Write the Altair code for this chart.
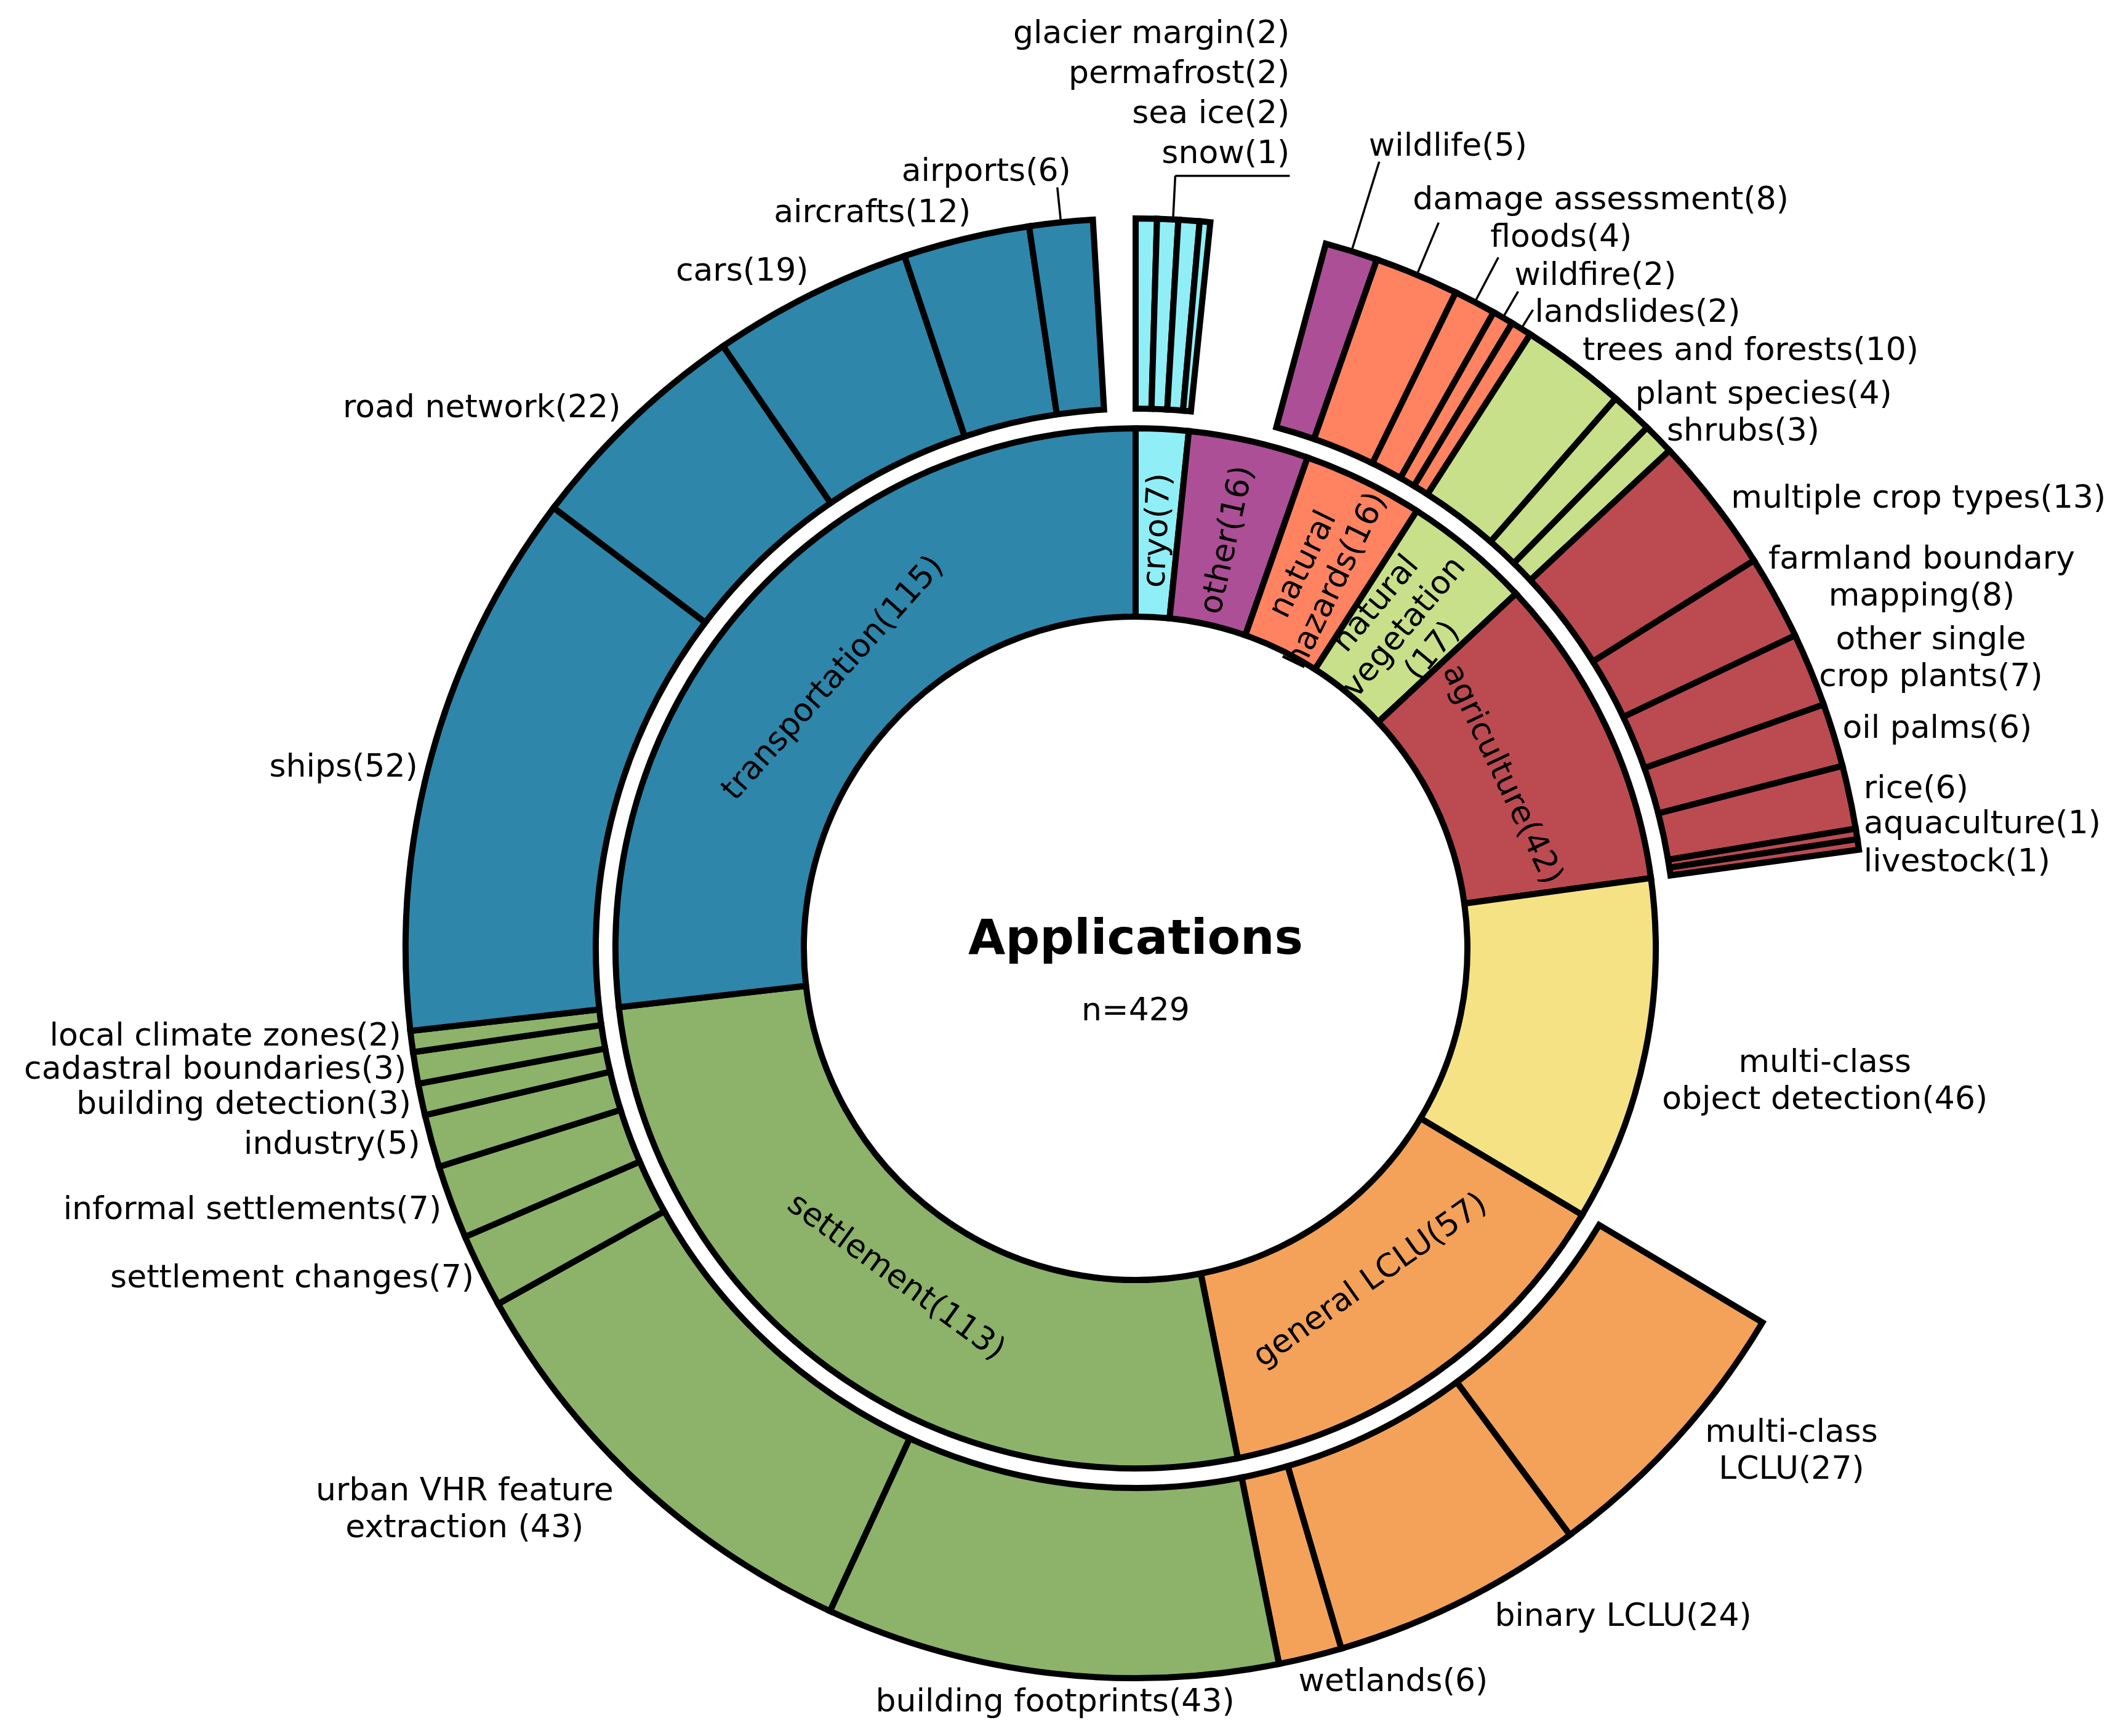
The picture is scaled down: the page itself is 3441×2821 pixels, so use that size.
import math
import altair as alt
import pandas as pd

# ------------------------------------------------------------------ data
inner_names = ["cryo", "other", "natural hazards", "natural vegetation", "agriculture",
               "multi-class object detection", "general LCLU", "settlement", "transportation"]
inner_values = [7, 16, 16, 17, 42, 46, 57, 113, 115]
inner_labels = ["cryo(7)", "other(16)", "natural\nhazards(16)", "natural\nvegetation\n(17)",
                "agriculture(42)", "", "general LCLU(57)", "settlement(113)", "transportation(115)"]
inner_colors = ["#90EEF6", "#AD4F96", "#FF8360", "#C8E08A", "#BC4B51",
                "#F4E285", "#F4A259", "#8CB369", "#2E86AB"]

outer_parents = (["cryo"] * 4 + ["other"] * 2 + ["natural hazards"] * 4 + ["natural vegetation"] * 3
                 + ["agriculture"] * 7 + ["multi-class object detection"] + ["general LCLU"] * 3
                 + ["settlement"] * 8 + ["transportation"] * 6)
outer_names = ["glacier margin", "permafrost", "sea ice", "snow",
               "other (unlisted)", "wildlife",
               "damage assessment", "floods", "wildfire", "landslides",
               "trees and forests", "plant species", "shrubs",
               "multiple crop types", "farmland boundary mapping", "other single crop plants",
               "oil palms", "rice", "aquaculture", "livestock",
               "multi-class object detection",
               "multi-class LCLU", "binary LCLU", "wetlands",
               "building footprints", "urban VHR feature extraction", "settlement changes",
               "informal settlements", "industry", "building detection", "cadastral boundaries",
               "local climate zones",
               "ships", "road network", "cars", "aircrafts", "airports", "transportation (unlisted)"]
outer_values = [2, 2, 2, 1,
                11, 5,
                8, 4, 2, 2,
                10, 4, 3,
                13, 8, 7, 6, 6, 1, 1,
                46,
                27, 24, 6,
                43, 43, 7, 7, 5, 3, 3, 2,
                52, 22, 19, 12, 6, 4]
outer_labels = ["glacier margin(2)", "permafrost(2)", "sea ice(2)", "snow(1)",
                "", "wildlife(5)",
                "damage assessment(8)", "floods(4)", "wildfire(2)", "landslides(2)",
                "trees and forests(10)", "plant species(4)", "shrubs(3)",
                "multiple crop types(13)", "farmland boundary\nmapping(8)", "other single\ncrop plants(7)",
                "oil palms(6)", "rice(6)", "aquaculture(1)", "livestock(1)",
                "multi-class\nobject detection(46)",
                "multi-class\nLCLU(27)", "binary LCLU(24)", "wetlands(6)",
                "building footprints(43)", "urban VHR feature\nextraction (43)", "settlement changes(7)",
                "informal settlements(7)", "industry(5)", "building detection(3)", "cadastral boundaries(3)",
                "local climate zones(2)",
                "ships(52)", "road network(22)", "cars(19)", "aircrafts(12)", "airports(6)", ""]
hidden_wedges = ["other (unlisted)", "multi-class object detection", "transportation (unlisted)"]

title_text = "Applications"

# ------------------------------------------------------------------ layout (pixels)
W, H = 3425, 2805
CX, CY = 1837, 1533
R_IN = (539, 845)
R_OUT = (877, 1186)
R_LABEL = 1205
R_INNER_LABEL = 660
R_INNER_LABEL_RADIAL = 680
FONT = "DejaVu Sans"
FS = 52
LH = 60
TITLE_FS = 78
STROKE = 10
LEADER_W = 3.5
R_LEADER_START = 1190
TITLE_DY = -14
SUB_DY = 101

NUDGE = {
    "local climate zones": (2, -12), "cadastral boundaries": (4, -2), "building detection": (2, 3),
    "informal settlements": (2, 5), "settlement changes": (6, 3),
    "multiple crop types": (12, 2), "oil palms": (-4, -6), "rice": (4, -10),
    "aquaculture": (-7, -14), "livestock": (-10, 30), "other single crop plants": (-4, -12),
    "farmland boundary mapping": (-29, -24), "trees and forests": (2, -9), "plant species": (-7, -17),
    "multi-class LCLU": (32, 7), "binary LCLU": (47, 6), "wetlands": (-24, 21),
    "building footprints": (10, 27), "urban VHR feature extraction": (-29, 27),
    "ships": (-4, 23), "road network": (-5, -7), "cars": (5, -22), "aircrafts": (12, -24),
    "multi-class object detection": (-7, 39),
}
LABEL_RADIUS = {"multi-class object detection": 880}
# name: (leader end radius, text dx, text dy, align)
LEADERS = {
    "airports": (1243, 22, -27, "right"),
    "wildlife": (1338, -17, -26, "left"),
    "damage assessment": (1278, -42, -38, "left"),
    "floods": (1268, -13, -33, "left"),
    "wildfire": (1235, -6, -27, "left"),
    "landslides": (1222, 3, 4, "left"),
}
STACK_GROUP = "cryo"
STACK = dict(r_end=1257, run=186, first=-37, step=65)

# approximate DejaVu Sans advance widths (per 1000 em)
GLYPH_W = {' ': 318, '(': 390, ')': 390, '-': 361, '=': 838,
           'a': 613, 'b': 635, 'c': 550, 'd': 635, 'e': 615, 'f': 352, 'g': 635, 'h': 634, 'i': 278,
           'j': 278, 'k': 579, 'l': 278, 'm': 974, 'n': 634, 'o': 612, 'p': 635, 'q': 635, 'r': 411,
           's': 521, 't': 392, 'u': 634, 'v': 592, 'w': 818, 'x': 592, 'y': 592, 'z': 525,
           'A': 684, 'C': 698, 'H': 752, 'L': 557, 'R': 695, 'U': 732, 'V': 684}
for d in "0123456789":
    GLYPH_W[d] = 636


def text_w(s):
    return sum(GLYPH_W.get(c, 600) for c in s) / 1000.0 * FS


total = sum(inner_values)


def polar(theta_deg, r):
    t = math.radians(theta_deg)
    return CX + r * math.sin(t), CY - r * math.cos(t)


# ------------------------------------------------------------------ derived tables
inner_df = pd.DataFrame({"parent": inner_names, "value": inner_values,
                         "order": list(range(len(inner_names)))})
outer_df = pd.DataFrame({"parent": outer_parents, "name": outer_names, "value": outer_values,
                         "order": list(range(len(outer_names))),
                         "shown": [n not in hidden_wedges for n in outer_names]})

text_rows = []
rule_rows = []


def add_text(x, y, text, align):
    lines = text.split("\n")
    if len(lines) > 1:
        # Vega puts the first line at the anchor: centre the whole block instead
        y -= (len(lines) - 1) * LH / 2.0
        if align != "center":
            mw = max(text_w(t) for t in lines)
            x = x + mw / 2 if align == "left" else x - mw / 2
            align = "center"
    text_rows.append({"x": x, "y": y, "text": text, "align": align})


cum = 0
stack_items = []
group_start = {}
group_total = {}
for p, n, v, lab in zip(outer_parents, outer_names, outer_values, outer_labels):
    group_start.setdefault(p, cum)
    group_total[p] = group_total.get(p, 0) + v
    mid = cum + v / 2.0
    cum += v
    theta = mid / total * 360.0
    if not lab:
        continue
    if p == STACK_GROUP:
        stack_items.append(lab)
        continue
    if n in LEADERS:
        r_end, dx, dy, align = LEADERS[n]
        x0, y0 = polar(theta, R_LEADER_START)
        x1, y1 = polar(theta, r_end)
        rule_rows.append({"x": x0, "y": y0, "x2": x1, "y2": y1})
        add_text(x1 + dx, y1 + dy, lab, align)
        continue
    r = LABEL_RADIUS.get(n, R_LABEL)
    x, y = polar(theta, r)
    s = math.sin(math.radians(theta))
    align = "left" if s > 0.15 else ("right" if s < -0.15 else "center")
    dx, dy = NUDGE.get(n, (0, 0))
    add_text(x + dx, y + dy, lab, align)

# stacked labels for the small group at the top, with an elbow leader
g_mid = (group_start[STACK_GROUP] + group_total[STACK_GROUP] / 2.0) / total * 360.0
x0, y0 = polar(g_mid, R_LEADER_START)
x1, y1 = polar(g_mid, STACK["r_end"])
x2 = x1 + STACK["run"]
rule_rows.append({"x": x0, "y": y0, "x2": x1, "y2": y1})
rule_rows.append({"x": x1, "y": y1, "x2": x2, "y2": y1})
for k, lab in enumerate(reversed(stack_items)):
    add_text(x2, y1 + STACK["first"] - k * STACK["step"], lab, "right")

# inner ring labels
inner_text_rows = []
cum = 0
for n, v, lab in zip(inner_names, inner_values, inner_labels):
    mid = cum + v / 2.0
    cum += v
    if not lab:
        continue
    theta = mid / total * 360.0
    t = math.radians(theta)
    radial = v < 20
    if radial:
        x, y = polar(theta, R_INNER_LABEL_RADIAL)
        ang = (theta - 90) % 360 if math.sin(t) >= 0 else (theta + 90) % 360
    else:
        x, y = polar(theta, R_INNER_LABEL)
        ang = theta % 360 if math.cos(t) >= 0 else (theta - 180) % 360
    nl = lab.count("\n")
    if nl:
        a = math.radians(ang)
        shift = nl * LH / 2.0
        # move the anchor "up" in the rotated text frame so the block is centred
        x += shift * math.sin(a)
        y -= shift * math.cos(a)
    inner_text_rows.append({"x": x, "y": y, "text": lab, "angle": ang})

text_df = pd.DataFrame(text_rows)
rule_df = pd.DataFrame(rule_rows)
inner_text_df = pd.DataFrame(inner_text_rows)

# ------------------------------------------------------------------ chart
theta_scale = alt.Scale(domain=[0, total])
color_scale = alt.Scale(domain=inner_names, range=inner_colors)

inner_arcs = alt.Chart(inner_df).mark_arc(
    radius=R_IN[1], radius2=R_IN[0], stroke="black", strokeWidth=STROKE, strokeJoin="miter"
).encode(
    theta=alt.Theta("value:Q", stack=True, scale=theta_scale),
    order=alt.Order("order:Q"),
    color=alt.Color("parent:N", scale=color_scale, legend=None),
    x=alt.value(CX), y=alt.value(CY),
)

outer_arcs = alt.Chart(outer_df).mark_arc(
    radius=R_OUT[1], radius2=R_OUT[0], stroke="black", strokeWidth=STROKE, strokeJoin="miter"
).encode(
    theta=alt.Theta("value:Q", stack=True, scale=theta_scale),
    order=alt.Order("order:Q"),
    color=alt.Color("parent:N", scale=color_scale, legend=None),
    opacity=alt.condition("datum.shown", alt.value(1), alt.value(0)),
    x=alt.value(CX), y=alt.value(CY),
)

leaders = alt.Chart(rule_df).mark_rule(color="black", strokeWidth=LEADER_W).encode(
    x=alt.X("x:Q", scale=None, axis=None),
    y=alt.Y("y:Q", scale=None, axis=None),
    x2="x2:Q", y2="y2:Q",
)

layers = [inner_arcs, outer_arcs, leaders]
for al in ["left", "right", "center"]:
    sub = text_df[text_df["align"] == al]
    if len(sub) == 0:
        continue
    layers.append(
        alt.Chart(sub).mark_text(font=FONT, fontSize=FS, align=al, baseline="middle",
                                 lineBreak="\n", lineHeight=LH, color="black").encode(
            x=alt.X("x:Q", scale=None, axis=None),
            y=alt.Y("y:Q", scale=None, axis=None),
            text="text:N",
        )
    )

layers.append(
    alt.Chart(inner_text_df).mark_text(font=FONT, fontSize=FS, align="center", baseline="middle",
                                       lineBreak="\n", lineHeight=LH, color="black").encode(
        x=alt.X("x:Q", scale=None, axis=None),
        y=alt.Y("y:Q", scale=None, axis=None),
        angle=alt.Angle("angle:Q", scale=None),
        text="text:N",
    )
)

center_df = pd.DataFrame({"t": [title_text, f"n={total}"], "y": [CY + TITLE_DY, CY + SUB_DY]})
layers.append(
    alt.Chart(center_df.iloc[[0]]).mark_text(font=FONT, fontSize=TITLE_FS, fontWeight="bold",
                                             align="center", baseline="middle", color="black").encode(
        x=alt.value(CX), y=alt.Y("y:Q", scale=None, axis=None), text="t:N")
)
layers.append(
    alt.Chart(center_df.iloc[[1]]).mark_text(font=FONT, fontSize=FS,
                                             align="center", baseline="middle", color="black").encode(
        x=alt.value(CX), y=alt.Y("y:Q", scale=None, axis=None), text="t:N")
)

chart = alt.layer(*layers).properties(
    width=W, height=H, padding=0, background="white",
    autosize=alt.AutoSizeParams(type="none"),
).configure_view(stroke=None)

chart.save("out.html", embed_options={"renderer": "svg", "actions": False})
